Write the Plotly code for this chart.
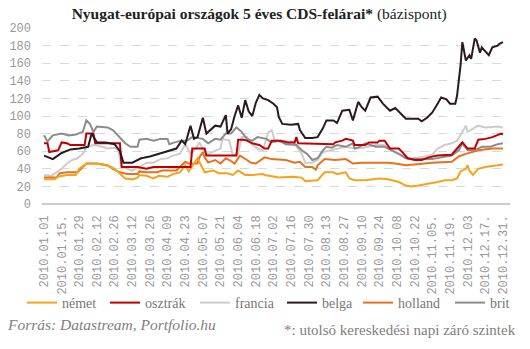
import plotly.graph_objects as go

# x-axis tick labels (every 10th trading day of 2010)
tick_days = list(range(0, 261, 10))
tick_labels = ["2010.01.01", "2010.01.15.", "2010.01.29", "2010.02.12", "2010.02.26",
               "2010.03.12", "2010.03.26", "2010.04.09", "2010.04.23", "2010.05.07",
               "2010.05.21", "2010.06.04", "2010.06.18", "2010.07.02", "2010.07.16",
               "2010.07.30", "2010.08.13", "2010.08.27", "2010.09.10", "2010.09.24",
               "2010.10.08", "2010.10.22", "2010.11.05.", "2010.11.19.", "2010.12.03",
               "2010.12.17.", "2010.12.31."]

# series: trading-day index and CDS spread (bp)
nemet_day = [0, 3, 6, 8, 13, 18, 20, 24, 28, 33, 37, 40, 43, 46, 50, 53, 54, 58, 62, 65, 70, 73, 77, 80, 82, 84, 87, 90, 91, 96, 99, 104, 107, 110, 114, 118, 124, 125, 133, 141, 146, 148, 155, 159, 164, 166, 171, 173, 176, 182, 188, 190, 195, 201, 205, 208, 212, 218, 223, 227, 231, 234, 236, 239, 240, 241, 243, 246, 250, 257, 260]
nemet_val = [28, 28, 28, 31, 33, 33, 40, 46, 46, 45, 43, 40, 35, 29, 28, 30, 33, 32, 29, 32, 31, 34, 36, 44, 37, 43, 52, 40, 36, 38, 35, 35, 33, 38, 33, 33, 34, 33, 30, 31, 30, 26, 27, 36, 36, 34, 36, 29, 27, 27, 28, 29, 28, 25, 21, 20, 21, 23, 25, 27, 27, 29, 37, 40, 44, 38, 33, 40, 42, 44, 45]

osztrak_day = [0, 2, 3, 8, 10, 13, 15, 23, 24, 28, 29, 43, 44, 53, 58, 62, 83, 84, 91, 92, 109, 110, 113, 115, 117, 118, 122, 125, 127, 129, 134, 138, 142, 143, 144, 164, 165, 169, 171, 175, 176, 182, 184, 189, 190, 193, 196, 201, 203, 206, 210, 214, 218, 223, 231, 235, 237, 240, 244, 246, 250, 254, 259, 260]
osztrak_val = [69, 69, 59, 61, 70, 69, 67, 67, 80, 80, 69, 69, 42, 42, 40, 42, 42, 63, 63, 55, 55, 73, 73, 72, 70, 69, 67, 63, 63, 72, 72, 70, 70, 76, 69, 68, 70, 72, 74, 72, 67, 67, 70, 70, 72, 72, 63, 63, 59, 52, 50, 50, 53, 55, 56, 65, 70, 63, 63, 73, 74, 76, 80, 79]

francia_day = [0, 4, 7, 10, 13, 16, 19, 22, 24, 28, 33, 36, 40, 42, 44, 47, 50, 54, 58, 62, 66, 70, 73, 77, 80, 83, 86, 88, 91, 93, 97, 100, 101, 105, 107, 110, 112, 115, 117, 121, 124, 127, 129, 131, 133, 141, 146, 148, 152, 155, 158, 163, 167, 171, 176, 181, 188, 193, 197, 201, 205, 208, 214, 220, 223, 227, 231, 234, 237, 239, 240, 243, 246, 250, 257, 260]
francia_val = [33, 32, 36, 40, 46, 50, 52, 57, 65, 67, 65, 63, 64, 61, 42, 40, 38, 42, 47, 47, 51, 52, 55, 57, 68, 57, 63, 70, 59, 57, 60, 63, 74, 72, 55, 58, 76, 76, 69, 63, 61, 81, 84, 70, 72, 71, 57, 47, 47, 50, 59, 61, 63, 65, 63, 64, 67, 67, 61, 57, 53, 52, 53, 56, 63, 67, 69, 72, 82, 89, 82, 86, 89, 87, 88, 87]

belga_day = [0, 5, 10, 15, 20, 25, 27, 30, 35, 40, 43, 45, 50, 55, 60, 65, 70, 75, 78, 80, 83, 85, 87, 90, 92, 95, 97, 100, 103, 104, 106, 108, 110, 112, 114, 116, 118, 120, 122, 124, 127, 130, 132, 133, 135, 140, 144, 145, 148, 152, 155, 158, 160, 164, 166, 169, 173, 175, 178, 180, 182, 185, 189, 192, 196, 199, 202, 205, 212, 214, 217, 220, 223, 225, 228, 230, 233, 234, 236, 237, 239, 241, 242, 244, 245, 247, 248, 252, 254, 257, 258, 260]
belga_val = [55, 51, 58, 62, 63, 65, 80, 70, 70, 68, 60, 47, 47, 52, 54, 57, 60, 63, 72, 68, 89, 74, 76, 98, 80, 85, 89, 88, 101, 80, 85, 100, 112, 98, 118, 105, 100, 115, 124, 120, 118, 114, 110, 99, 91, 90, 91, 84, 75, 75, 76, 86, 95, 95, 92, 106, 107, 95, 116, 110, 106, 121, 122, 114, 106, 109, 103, 97, 97, 94, 98, 104, 114, 121, 119, 114, 114, 123, 158, 184, 163, 169, 165, 188, 186, 172, 178, 169, 178, 180, 182, 184]

holland_day = [0, 7, 9, 13, 19, 22, 24, 30, 36, 39, 43, 47, 53, 54, 58, 64, 67, 75, 78, 80, 82, 87, 88, 90, 91, 93, 97, 100, 103, 105, 108, 111, 115, 117, 120, 125, 129, 137, 142, 145, 148, 152, 154, 155, 159, 165, 171, 175, 180, 188, 195, 199, 205, 210, 214, 220, 231, 235, 239, 242, 246, 254, 260]
holland_val = [30, 30, 35, 36, 36, 42, 46, 46, 44, 40, 36, 34, 34, 37, 36, 36, 38, 38, 44, 48, 46, 46, 53, 59, 53, 47, 50, 46, 52, 50, 46, 55, 50, 47, 46, 53, 51, 50, 47, 48, 42, 42, 39, 44, 51, 50, 51, 46, 47, 47, 47, 46, 44, 45, 46, 47, 48, 54, 57, 59, 61, 63, 63]

brit_day = [0, 2, 5, 10, 14, 18, 22, 24, 26, 28, 30, 36, 39, 41, 43, 46, 49, 53, 54, 58, 62, 66, 70, 71, 74, 78, 81, 84, 90, 93, 97, 100, 103, 106, 109, 112, 115, 118, 121, 126, 129, 132, 135, 137, 143, 146, 149, 152, 155, 158, 160, 163, 166, 171, 175, 176, 178, 182, 188, 193, 197, 201, 205, 208, 214, 220, 225, 231, 235, 237, 240, 244, 248, 253, 257, 260]
brit_val = [78, 71, 78, 80, 78, 79, 82, 95, 91, 82, 88, 87, 84, 80, 76, 69, 65, 65, 73, 74, 72, 74, 74, 68, 70, 72, 72, 76, 74, 69, 74, 73, 80, 80, 87, 82, 74, 72, 76, 74, 70, 72, 70, 68, 67, 61, 57, 50, 52, 61, 65, 64, 67, 65, 69, 63, 64, 69, 65, 65, 61, 57, 52, 51, 51, 51, 53, 55, 61, 69, 61, 61, 65, 65, 68, 69]

series = [
    ("német", nemet_day, nemet_val, "#f7a21b"),
    ("osztrák", osztrak_day, osztrak_val, "#c00000"),
    ("francia", francia_day, francia_val, "#cccccc"),
    ("belga", belga_day, belga_val, "#2a1a1f"),
    ("holland", holland_day, holland_val, "#e8721c"),
    ("brit", brit_day, brit_val, "#8c8c8c"),
]

# legend entry left edges (px) in the legend row
legend_left_px = [22, 105, 195, 282, 358, 450]

serif = "Liberation Serif"
mono = "Liberation Mono"

fig = go.Figure()
draw_order = [2, 5, 4, 0, 1, 3]
for i in draw_order:
    name, d, v, c = series[i]
    lg = "legend" if i == 0 else f"legend{i + 1}"
    fig.add_trace(go.Scatter(x=d, y=v, mode="lines", name=name, legend=lg,
                             line=dict(color=c, width=2)))

legend_layout = {}
for i, px in enumerate(legend_left_px):
    key = "legend" if i == 0 else f"legend{i + 1}"
    legend_layout[key] = dict(orientation="h", x=px / 530, xref="container",
                              y=1 - 303 / 349, yref="container",
                              yanchor="middle", xanchor="left", bgcolor="rgba(0,0,0,0)",
                              font=dict(family=serif, size=14, color="#777777"),
                              itemwidth=30)

fig.update_layout(
    width=530, height=349,
    margin=dict(l=42, r=20, t=28, b=145, autoexpand=False),
    paper_bgcolor="white", plot_bgcolor="white",
    title=dict(text="<b>Nyugat-európai országok 5 éves CDS-felárai*</b> (bázispont)",
               x=0.489, xanchor="center", y=1 - 14 / 349, yanchor="middle",
               font=dict(family=serif, size=15.5, color="#222222")),
    showlegend=True,
    xaxis=dict(range=[-1.13, 264.0], tickmode="array", tickvals=tick_days, ticktext=tick_labels,
               tickangle=-90, showgrid=False, zeroline=False, showline=False, ticks="",
               ticklabelstandoff=8, automargin=False,
               tickfont=dict(family=mono, size=12, color="#999999")),
    yaxis=dict(range=[0, 200], tickvals=list(range(0, 201, 20)), showgrid=True,
               gridcolor="#d9d9d9", griddash="dash", gridwidth=1,
               zeroline=True, zerolinecolor="#cccccc", zerolinewidth=1.5,
               ticks="", ticklabelstandoff=10, showline=False, automargin=False,
               tickfont=dict(family=mono, size=12, color="#999999")),
    annotations=[
        dict(text="<i>Forrás: Datastream, Portfolio.hu</i>", xref="paper", yref="paper",
             x=0, xshift=-37, y=1 - (324 - 28) / 176, xanchor="left", yanchor="middle",
             showarrow=False, font=dict(family=serif, size=15.5, color="#808080")),
        dict(text="*: utolsó kereskedési napi záró szintek", xref="paper", yref="paper",
             x=1, xshift=8, y=1 - (330 - 28) / 176, xanchor="right", yanchor="middle",
             showarrow=False, font=dict(family=serif, size=15, color="#808080")),
    ],
    **legend_layout,
)

fig.write_html("out.html")
